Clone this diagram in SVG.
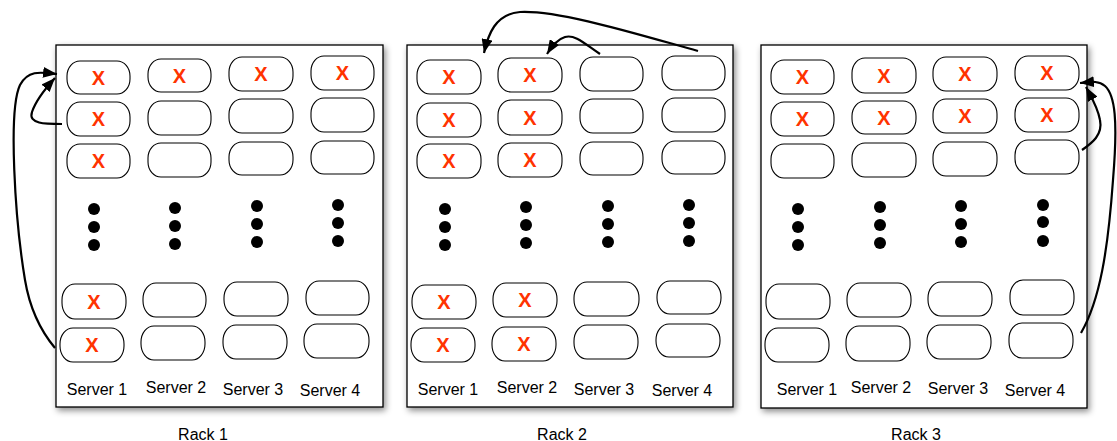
<svg xmlns="http://www.w3.org/2000/svg" width="1117" height="441" viewBox="0 0 1117 441">
<defs>
<filter id="sh" x="-10%" y="-10%" width="120%" height="120%">
<feDropShadow dx="2" dy="3" stdDeviation="3" flood-color="#000" flood-opacity="0.45"/>
</filter>
<marker id="ah" markerUnits="userSpaceOnUse" markerWidth="15" markerHeight="11" refX="14" refY="5.5" orient="auto">
<path d="M0,0 L14,5.5 L0,11 z" fill="#000"/>
</marker>
</defs>
<style>
.rack{fill:#fff;stroke:#000;stroke-width:1.3;filter:url(#sh)}
.slot{fill:#fff;stroke:#000;stroke-width:1.1}
.x{font-family:"Liberation Sans",Arial,sans-serif;font-weight:bold;font-size:20px;fill:#ff3300;text-anchor:middle}
.lbl{font-family:"Liberation Sans",Arial,sans-serif;font-size:16px;fill:#000;text-anchor:middle}
.dot{fill:#000}
.arr{fill:none;stroke:#000;stroke-width:2.2;marker-end:url(#ah)}
</style>

<g id="rack1">
<rect class="rack" x="56" y="45" width="327" height="362"/>
<g id="r1s1a"><rect class="slot" x="67" y="61" width="63" height="33" rx="13" ry="15"/><text class="x" x="98.5" y="84.5">X</text></g>
<g id="r1s2a"><rect class="slot" x="148" y="59" width="63" height="33" rx="13" ry="15"/><text class="x" x="179.5" y="82.5">X</text></g>
<g id="r1s3a"><rect class="slot" x="229" y="57" width="64" height="34" rx="13" ry="15"/><text class="x" x="261" y="81">X</text></g>
<g id="r1s4a"><rect class="slot" x="311" y="56" width="63" height="34" rx="13" ry="15"/><text class="x" x="342.5" y="80">X</text></g>
<g id="r1s1b"><rect class="slot" x="67" y="102" width="63" height="34" rx="13" ry="15"/><text class="x" x="98.5" y="126">X</text></g>
<g id="r1s2b"><rect class="slot" x="148" y="101" width="63" height="34" rx="13" ry="15"/></g>
<g id="r1s3b"><rect class="slot" x="229" y="99" width="64" height="34" rx="13" ry="15"/></g>
<g id="r1s4b"><rect class="slot" x="311" y="98" width="63" height="34" rx="13" ry="15"/></g>
<g id="r1s1c"><rect class="slot" x="67" y="144" width="63" height="34" rx="13" ry="15"/><text class="x" x="98.5" y="168">X</text></g>
<g id="r1s2c"><rect class="slot" x="148" y="143" width="63" height="34" rx="13" ry="15"/></g>
<g id="r1s3c"><rect class="slot" x="229" y="142" width="64" height="33" rx="13" ry="15"/></g>
<g id="r1s4c"><rect class="slot" x="311" y="141" width="63" height="33" rx="13" ry="15"/></g>
<g id="r1dots">
<circle class="dot" cx="94" cy="209" r="6"/><circle class="dot" cx="94" cy="227" r="6"/><circle class="dot" cx="94" cy="245" r="6"/>
<circle class="dot" cx="175" cy="208" r="6"/><circle class="dot" cx="175" cy="226" r="6"/><circle class="dot" cx="175" cy="244" r="6"/>
<circle class="dot" cx="257" cy="206" r="6"/><circle class="dot" cx="257" cy="224" r="6"/><circle class="dot" cx="257" cy="242" r="6"/>
<circle class="dot" cx="338" cy="205" r="6"/><circle class="dot" cx="338" cy="223" r="6"/><circle class="dot" cx="338" cy="241" r="6"/>
</g>
<g id="r1s1d"><rect class="slot" x="62" y="284" width="64" height="35" rx="13" ry="16"/><text class="x" x="94" y="308.5">X</text></g>
<g id="r1s2d"><rect class="slot" x="143" y="283" width="63" height="34" rx="13" ry="16"/></g>
<g id="r1s3d"><rect class="slot" x="224" y="282" width="64" height="34" rx="13" ry="16"/></g>
<g id="r1s4d"><rect class="slot" x="306" y="281" width="63" height="34" rx="13" ry="16"/></g>
<g id="r1s1e"><rect class="slot" x="60" y="328" width="64" height="34" rx="13" ry="16"/><text class="x" x="92" y="352">X</text></g>
<g id="r1s2e"><rect class="slot" x="141" y="326" width="64" height="34" rx="13" ry="16"/></g>
<g id="r1s3e"><rect class="slot" x="223" y="325" width="64" height="34" rx="13" ry="16"/></g>
<g id="r1s4e"><rect class="slot" x="304" y="324" width="65" height="34" rx="13" ry="16"/></g>
<text class="lbl" x="97" y="395">Server 1</text>
<text class="lbl" x="176" y="393">Server 2</text>
<text class="lbl" x="253" y="395">Server 3</text>
<text class="lbl" x="330" y="396">Server 4</text>
<text class="lbl" x="203" y="440">Rack 1</text>
</g>

<g id="rack2">
<rect class="rack" x="407" y="45" width="326" height="362"/>
<g id="r2s1a"><rect class="slot" x="417" y="60" width="64" height="34" rx="13" ry="15"/><text class="x" x="449" y="84">X</text></g>
<g id="r2s2a"><rect class="slot" x="498" y="58" width="64" height="34" rx="13" ry="15"/><text class="x" x="530" y="82">X</text></g>
<g id="r2s3a"><rect class="slot" x="580" y="57" width="63" height="34" rx="13" ry="15"/></g>
<g id="r2s4a"><rect class="slot" x="662" y="56" width="63" height="34" rx="13" ry="15"/></g>
<g id="r2s1b"><rect class="slot" x="417" y="103" width="64" height="34" rx="13" ry="15"/><text class="x" x="449" y="127">X</text></g>
<g id="r2s2b"><rect class="slot" x="498" y="100" width="64" height="35" rx="13" ry="15"/><text class="x" x="530" y="124.5">X</text></g>
<g id="r2s3b"><rect class="slot" x="580" y="99" width="63" height="34" rx="13" ry="15"/></g>
<g id="r2s4b"><rect class="slot" x="662" y="98" width="63" height="34" rx="13" ry="15"/></g>
<g id="r2s1c"><rect class="slot" x="417" y="144" width="64" height="34" rx="13" ry="15"/><text class="x" x="449" y="168">X</text></g>
<g id="r2s2c"><rect class="slot" x="498" y="143" width="64" height="34" rx="13" ry="15"/><text class="x" x="530" y="167">X</text></g>
<g id="r2s3c"><rect class="slot" x="580" y="142" width="63" height="33" rx="13" ry="15"/></g>
<g id="r2s4c"><rect class="slot" x="662" y="141" width="63" height="33" rx="13" ry="15"/></g>
<g id="r2dots">
<circle class="dot" cx="445" cy="209" r="6"/><circle class="dot" cx="445" cy="227" r="6"/><circle class="dot" cx="445" cy="245" r="6"/>
<circle class="dot" cx="526" cy="207" r="6"/><circle class="dot" cx="526" cy="225" r="6"/><circle class="dot" cx="526" cy="243" r="6"/>
<circle class="dot" cx="608" cy="206" r="6"/><circle class="dot" cx="608" cy="224" r="6"/><circle class="dot" cx="608" cy="242" r="6"/>
<circle class="dot" cx="689" cy="205" r="6"/><circle class="dot" cx="689" cy="223" r="6"/><circle class="dot" cx="689" cy="241" r="6"/>
</g>
<g id="r2s1d"><rect class="slot" x="412" y="285" width="64" height="34" rx="13" ry="16"/><text class="x" x="444" y="309">X</text></g>
<g id="r2s2d"><rect class="slot" x="493" y="283" width="64" height="34" rx="13" ry="16"/><text class="x" x="525" y="307">X</text></g>
<g id="r2s3d"><rect class="slot" x="574" y="282" width="65" height="34" rx="13" ry="16"/></g>
<g id="r2s4d"><rect class="slot" x="657" y="281" width="64" height="33" rx="13" ry="16"/></g>
<g id="r2s1e"><rect class="slot" x="411" y="328" width="64" height="34" rx="13" ry="16"/><text class="x" x="443" y="352">X</text></g>
<g id="r2s2e"><rect class="slot" x="492" y="327" width="64" height="34" rx="13" ry="16"/><text class="x" x="524" y="351">X</text></g>
<g id="r2s3e"><rect class="slot" x="574" y="325" width="64" height="34" rx="13" ry="16"/></g>
<g id="r2s4e"><rect class="slot" x="656" y="324" width="64" height="33" rx="13" ry="16"/></g>
<text class="lbl" x="448" y="395">Server 1</text>
<text class="lbl" x="527" y="393">Server 2</text>
<text class="lbl" x="604" y="395">Server 3</text>
<text class="lbl" x="682" y="396">Server 4</text>
<text class="lbl" x="562" y="440">Rack 2</text>
</g>

<g id="rack3">
<rect class="rack" x="761" y="45" width="326" height="363"/>
<g id="r3s1a"><rect class="slot" x="771" y="60" width="63" height="34" rx="13" ry="15"/><text class="x" x="802.5" y="84">X</text></g>
<g id="r3s2a"><rect class="slot" x="852" y="58" width="64" height="35" rx="13" ry="15"/><text class="x" x="884" y="82.5">X</text></g>
<g id="r3s3a"><rect class="slot" x="933" y="57" width="64" height="34" rx="13" ry="15"/><text class="x" x="965" y="81">X</text></g>
<g id="r3s4a"><rect class="slot" x="1015" y="56" width="64" height="34" rx="13" ry="15"/><text class="x" x="1047" y="80">X</text></g>
<g id="r3s1b"><rect class="slot" x="771" y="102" width="63" height="34" rx="13" ry="15"/><text class="x" x="802.5" y="126">X</text></g>
<g id="r3s2b"><rect class="slot" x="852" y="101" width="64" height="33" rx="13" ry="15"/><text class="x" x="884" y="124.5">X</text></g>
<g id="r3s3b"><rect class="slot" x="933" y="99" width="64" height="34" rx="13" ry="15"/><text class="x" x="965" y="123">X</text></g>
<g id="r3s4b"><rect class="slot" x="1015" y="98" width="64" height="34" rx="13" ry="15"/><text class="x" x="1047" y="122">X</text></g>
<g id="r3s1c"><rect class="slot" x="771" y="144" width="63" height="34" rx="13" ry="15"/></g>
<g id="r3s2c"><rect class="slot" x="852" y="143" width="64" height="34" rx="13" ry="15"/></g>
<g id="r3s3c"><rect class="slot" x="933" y="142" width="64" height="34" rx="13" ry="15"/></g>
<g id="r3s4c"><rect class="slot" x="1015" y="140" width="64" height="34" rx="13" ry="15"/></g>
<g id="r3dots">
<circle class="dot" cx="798" cy="209" r="6"/><circle class="dot" cx="798" cy="227" r="6"/><circle class="dot" cx="798" cy="245" r="6"/>
<circle class="dot" cx="880" cy="207" r="6"/><circle class="dot" cx="880" cy="225" r="6"/><circle class="dot" cx="880" cy="243" r="6"/>
<circle class="dot" cx="961" cy="206" r="6"/><circle class="dot" cx="961" cy="224" r="6"/><circle class="dot" cx="961" cy="242" r="6"/>
<circle class="dot" cx="1043" cy="205" r="6"/><circle class="dot" cx="1043" cy="222" r="6"/><circle class="dot" cx="1043" cy="241" r="6"/>
</g>
<g id="r3s1d"><rect class="slot" x="766" y="284" width="64" height="35" rx="13" ry="16"/></g>
<g id="r3s2d"><rect class="slot" x="847" y="283" width="64" height="34" rx="13" ry="16"/></g>
<g id="r3s3d"><rect class="slot" x="928" y="282" width="64" height="34" rx="13" ry="16"/></g>
<g id="r3s4d"><rect class="slot" x="1010" y="280" width="64" height="35" rx="13" ry="16"/></g>
<g id="r3s1e"><rect class="slot" x="765" y="328" width="64" height="34" rx="13" ry="16"/></g>
<g id="r3s2e"><rect class="slot" x="846" y="326" width="64" height="35" rx="13" ry="16"/></g>
<g id="r3s3e"><rect class="slot" x="927" y="325" width="64" height="34" rx="13" ry="16"/></g>
<g id="r3s4e"><rect class="slot" x="1009" y="323" width="64" height="35" rx="13" ry="16"/></g>
<text class="lbl" x="807" y="395">Server 1</text>
<text class="lbl" x="881" y="393">Server 2</text>
<text class="lbl" x="958" y="394">Server 3</text>
<text class="lbl" x="1035" y="396">Server 4</text>
<text class="lbl" x="916" y="440">Rack 3</text>
</g>

<g id="connectors">
<path class="arr" d="M55,348 C40,330 30,310 25,280 C15,220 8,110 20,85 C28,70 40,72 57,74"/>
<path class="arr" d="M62,124 C45,124 28,124 32,112 C36,100 44,90 55,78"/>
<path class="arr" d="M698,51 C640,35 560,10 520,12 C495,14 488,35 484,53"/>
<path class="arr" d="M600,54 C585,44 575,34 565,37 C558,39 552,46 547,54"/>
<path class="arr" d="M1081,333 C1100,300 1108,250 1113,180 C1118,120 1115,95 1105,86 C1098,80 1090,82 1080,83"/>
<path class="arr" d="M1082,150 C1092,143 1103,135 1100,120 C1098,108 1092,98 1086,87"/>
</g>
</svg>
